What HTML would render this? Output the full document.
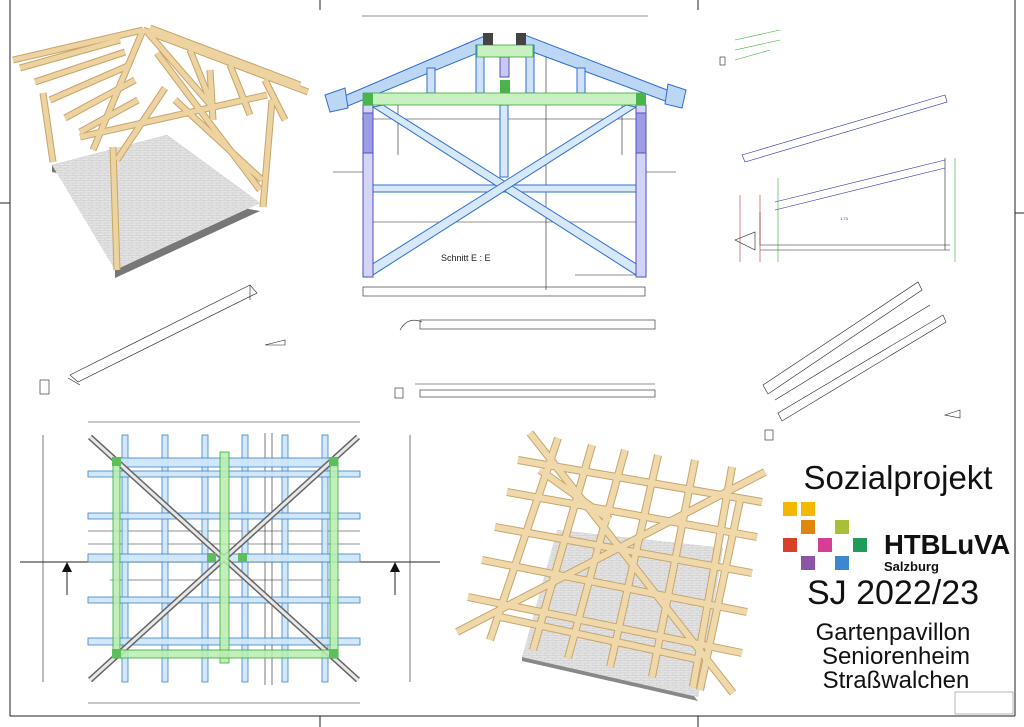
<!DOCTYPE html>
<html><head><meta charset="utf-8"><style>
html,body{margin:0;padding:0;background:#fff}
svg{display:block}
.t{font-family:"Liberation Sans",sans-serif}
</style></head><body>
<svg width="1024" height="727" viewBox="0 0 1024 727" xmlns="http://www.w3.org/2000/svg">
<defs>
<pattern id="pav" width="8" height="5" patternUnits="userSpaceOnUse">
<rect width="8" height="5" fill="#e4e4e4"/><path d="M0 .5H8M4 .5V3M0 3H8M1 3V5" stroke="#c8c8c8" stroke-width=".6"/>
</pattern>
</defs>
<!-- frame -->
<g stroke="#222" stroke-width="1" fill="none">
<line x1="10" y1="0" x2="10" y2="716"/>
<line x1="1015" y1="0" x2="1015" y2="716"/>
<line x1="10" y1="716" x2="1015" y2="716"/>
<line x1="0" y1="203" x2="10" y2="203"/>
<line x1="1015" y1="213" x2="1024" y2="213"/>
<line x1="320" y1="0" x2="320" y2="10"/>
<line x1="698" y1="0" x2="698" y2="10"/>
<line x1="320" y1="716" x2="320" y2="727"/>
<line x1="698" y1="716" x2="698" y2="727"/>
</g>
<rect x="955" y="692" width="58" height="22" fill="none" stroke="#888" stroke-width=".6"/>

<!-- 3D view top-left -->
<polygon points="52,165 167,135 260,203 115,270 115,278 260,211 52,172" fill="#777"/>
<polygon points="52,165 167,135 260,203 115,270" fill="url(#pav)"/>
<g stroke="#c9a46a" stroke-width="7" stroke-linecap="butt">
<line x1="43" y1="93" x2="53" y2="162"/>
<line x1="113" y1="147" x2="117" y2="270"/>
<line x1="272" y1="100" x2="263" y2="207"/>
<line x1="210" y1="70" x2="213" y2="120"/>
<line x1="80" y1="137" x2="267" y2="95"/>
<line x1="157" y1="53" x2="260" y2="190"/>
<line x1="117" y1="160" x2="165" y2="88"/>
<line x1="143" y1="30" x2="13" y2="60"/>
<line x1="143" y1="30" x2="308" y2="92"/>
<line x1="143" y1="30" x2="93" y2="150"/>
<line x1="148" y1="33" x2="215" y2="110"/>
<line x1="20" y1="68" x2="120" y2="40"/>
<line x1="35" y1="82" x2="125" y2="52"/>
<line x1="50" y1="100" x2="130" y2="65"/>
<line x1="65" y1="118" x2="135" y2="80"/>
<line x1="80" y1="132" x2="138" y2="100"/>
<line x1="190" y1="50" x2="210" y2="100"/>
<line x1="230" y1="65" x2="250" y2="115"/>
<line x1="265" y1="80" x2="285" y2="120"/>
<line x1="175" y1="100" x2="262" y2="180"/>
<line x1="150" y1="28" x2="300" y2="85"/>
</g>
<g stroke="#ecd3a0" stroke-width="5" stroke-linecap="butt">
<line x1="43" y1="93" x2="53" y2="162"/>
<line x1="113" y1="147" x2="117" y2="270"/>
<line x1="272" y1="100" x2="263" y2="207"/>
<line x1="210" y1="70" x2="213" y2="120"/>
<line x1="80" y1="137" x2="267" y2="95"/>
<line x1="157" y1="53" x2="260" y2="190"/>
<line x1="117" y1="160" x2="165" y2="88"/>
<line x1="143" y1="30" x2="13" y2="60"/>
<line x1="143" y1="30" x2="308" y2="92"/>
<line x1="143" y1="30" x2="93" y2="150"/>
<line x1="148" y1="33" x2="215" y2="110"/>
<line x1="20" y1="68" x2="120" y2="40"/>
<line x1="35" y1="82" x2="125" y2="52"/>
<line x1="50" y1="100" x2="130" y2="65"/>
<line x1="65" y1="118" x2="135" y2="80"/>
<line x1="80" y1="132" x2="138" y2="100"/>
<line x1="190" y1="50" x2="210" y2="100"/>
<line x1="230" y1="65" x2="250" y2="115"/>
<line x1="265" y1="80" x2="285" y2="120"/>
<line x1="175" y1="100" x2="262" y2="180"/>
<line x1="150" y1="28" x2="300" y2="85"/>
</g>

<!-- Section E:E -->
<g stroke="#222" stroke-width=".6" fill="none">
<line x1="362" y1="16" x2="648" y2="16"/>
<line x1="362" y1="119" x2="645" y2="119"/>
<line x1="363" y1="222" x2="645" y2="222"/>
<line x1="546" y1="43" x2="546" y2="290"/>
<line x1="398" y1="105" x2="398" y2="155"/>
<line x1="622" y1="105" x2="622" y2="155"/>
<line x1="333" y1="172" x2="363" y2="172"/>
<line x1="645" y1="172" x2="676" y2="172"/>
<rect x="363" y="287" width="282" height="9"/>
<line x1="575" y1="275" x2="636" y2="275"/>
</g>
<g stroke="#2f6fd0" stroke-width="1">
<polygon points="335,100 487,35 490,48 338,110" fill="#bcd7f3"/>
<polygon points="680,95 525,35 522,48 676,105" fill="#bcd7f3"/>
<polygon points="325,95 345,88 348,108 330,112" fill="#bcd7f3"/>
<polygon points="686,90 668,84 665,104 682,108" fill="#bcd7f3"/>
<rect x="427" y="68" width="8" height="25" fill="#cfe2f7"/>
<rect x="577" y="68" width="8" height="25" fill="#cfe2f7"/>
<rect x="476" y="45" width="8" height="48" fill="#cfe2f7"/>
<rect x="526" y="45" width="8" height="48" fill="#cfe2f7"/>
<rect x="500" y="57" width="9" height="20" fill="#c8c8f2" stroke="#5050c0"/>
<rect x="500" y="105" width="8" height="72" fill="#d7e8f8"/>
<rect x="373" y="185" width="263" height="7" fill="#d7e8f8"/>
<polygon points="373,107 383,105 646,270 636,275" fill="#d7e8f8"/>
<polygon points="636,107 626,105 363,270 373,275" fill="#d7e8f8"/>
<rect x="363" y="105" width="10" height="172" fill="#d4d4f6" stroke="#5050c0"/>
<rect x="636" y="105" width="10" height="172" fill="#d4d4f6" stroke="#5050c0"/>
<rect x="363" y="113" width="10" height="40" fill="#9c9ce6" stroke="#5050c0"/>
<rect x="636" y="113" width="10" height="40" fill="#9c9ce6" stroke="#5050c0"/>
</g>
<rect x="477" y="45" width="56" height="12" fill="#c9f0c0" stroke="#3a3" stroke-width=".8"/>
<rect x="363" y="93" width="282" height="12" fill="#c9f0c0" stroke="#3a3" stroke-width=".8"/>
<rect x="363" y="93" width="10" height="12" fill="#4bb34b"/>
<rect x="636" y="93" width="10" height="12" fill="#4bb34b"/>
<rect x="500" y="80" width="10" height="13" fill="#4bb34b"/>
<rect x="483" y="33" width="10" height="12" fill="#444"/>
<rect x="516" y="33" width="10" height="12" fill="#444"/>
<text x="441" y="261" font-size="9" class="t" fill="#222">Schnitt E : E</text>

<!-- middle small details -->
<g stroke="#222" stroke-width=".6" fill="none">
<rect x="420" y="320" width="235" height="9"/>
<path d="M400,330 q8,-14 22,-8"/>
<rect x="420" y="390" width="235" height="7"/>
<line x1="415" y1="384" x2="655" y2="384"/>
<rect x="395" y="388" width="8" height="10"/>
<path d="M70,375 L250,285 L257,293 L78,382 Z"/>
<path d="M68,378 L80,385"/>
<rect x="40" y="380" width="9" height="14"/>
<line x1="250" y1="285" x2="250" y2="300"/>
<path d="M742,155 L945,95 L947,102 L745,162 Z" stroke="#2030b0"/>
<path d="M775,202 L945,160 M775,210 L945,168" stroke="#2030b0"/>
<path d="M760,212 L760,245 L950,245 M760,250 L950,250"/>
<line x1="945" y1="158" x2="945" y2="250"/>
<line x1="955" y1="158" x2="955" y2="262" stroke="#3a3"/>
<line x1="778" y1="178" x2="778" y2="262" stroke="#3a3"/>
<line x1="760" y1="195" x2="760" y2="262" stroke="#b33"/>
<line x1="740" y1="195" x2="740" y2="262" stroke="#b33"/>
<path d="M763,385 L918,282 L922,290 L768,394 Z"/>
<path d="M778,413 L943,315 L946,322 L782,421 Z"/>
<line x1="775" y1="400" x2="930" y2="305"/>
<path d="M735,240 L755,232 L755,250 Z"/>
<path d="M735,40 L780,30 M735,50 L780,40 M735,60 L770,50" stroke="#3a3"/>
<rect x="720" y="57" width="5" height="8"/>
<rect x="765" y="430" width="8" height="10"/>
<path d="M265,345 L285,340 L285,345 Z M945,415 L960,410 L960,418 Z"/>
</g>
<g fill="#2030b0" font-size="4" class="t"><text x="840" y="220">1.73</text></g>

<!-- Plan view -->
<g stroke="#222" stroke-width=".6" fill="none">
<line x1="88" y1="422" x2="360" y2="422"/>
<line x1="88" y1="703" x2="360" y2="703"/>
<line x1="43" y1="435" x2="43" y2="682"/>
<line x1="410" y1="435" x2="410" y2="682"/>
<line x1="20" y1="562" x2="440" y2="562" stroke-width="1"/>
<line x1="88" y1="531" x2="360" y2="531"/>
<line x1="88" y1="544" x2="360" y2="544"/>
<line x1="110" y1="580" x2="340" y2="580"/>
<line x1="265" y1="433" x2="265" y2="685"/>
<line x1="272" y1="433" x2="272" y2="685"/>
</g>
<g stroke="#222" stroke-width="1">
<line x1="67" y1="595" x2="67" y2="570"/>
<line x1="395" y1="595" x2="395" y2="570"/>
</g>
<polygon points="62,572 72,572 67,562" fill="#111"/>
<polygon points="390,572 400,572 395,562" fill="#111"/>
<g stroke="#3a83c8" stroke-width=".8" fill="#cde4f6" fill-opacity=".9">
<rect x="122" y="435" width="6" height="247"/>
<rect x="162" y="435" width="6" height="247"/>
<rect x="202" y="435" width="6" height="247"/>
<rect x="242" y="435" width="6" height="247"/>
<rect x="282" y="435" width="6" height="247"/>
<rect x="322" y="435" width="6" height="247"/>
<rect x="120" y="458" width="217" height="9"/>
<rect x="88" y="471" width="272" height="6"/>
<rect x="88" y="513" width="272" height="6"/>
<rect x="88" y="554" width="272" height="8"/>
<rect x="88" y="597" width="272" height="6"/>
<rect x="88" y="638" width="272" height="7"/>
</g>
<g stroke="#666" stroke-width="6">
<line x1="90" y1="437" x2="358" y2="680"/>
<line x1="358" y1="437" x2="90" y2="680"/>
</g>
<g stroke="#e8e8e8" stroke-width="3">
<line x1="90" y1="437" x2="358" y2="680"/>
<line x1="358" y1="437" x2="90" y2="680"/>
</g>
<g stroke="#3a3" stroke-width=".8" fill="#b9ecae" fill-opacity=".85">
<rect x="113" y="458" width="7" height="200"/>
<rect x="330" y="458" width="8" height="200"/>
<rect x="220" y="452" width="9" height="211"/>
<rect x="113" y="650" width="225" height="8"/>
</g>
<g fill="#5cbf5c"><rect x="112" y="457" width="9" height="9"/><rect x="329" y="457" width="9" height="9"/><rect x="112" y="649" width="9" height="9"/><rect x="329" y="649" width="9" height="9"/><rect x="238" y="553" width="9" height="9"/><rect x="207" y="553" width="9" height="9"/></g>

<!-- 3D view bottom -->
<polygon points="557,530 723,548 698,697 522,657 522,661 698,701" fill="#888"/>
<polygon points="557,530 723,548 698,697 522,657" fill="url(#pav)"/>
<g stroke="#c9a46a" stroke-width="8">
<line x1="518" y1="460" x2="762" y2="502"/>
<line x1="507" y1="492" x2="757" y2="537"/>
<line x1="495" y1="527" x2="752" y2="573"/>
<line x1="482" y1="560" x2="747" y2="612"/>
<line x1="468" y1="597" x2="742" y2="653"/>
<line x1="500" y1="617" x2="700" y2="660"/>
<line x1="558" y1="438" x2="490" y2="640"/>
<line x1="592" y1="445" x2="533" y2="650"/>
<line x1="625" y1="450" x2="568" y2="658"/>
<line x1="658" y1="455" x2="610" y2="667"/>
<line x1="695" y1="460" x2="652" y2="677"/>
<line x1="732" y1="467" x2="693" y2="687"/>
<line x1="530" y1="433" x2="733" y2="693"/>
<line x1="765" y1="472" x2="457" y2="632"/>
<line x1="540" y1="470" x2="610" y2="520"/>
<line x1="740" y1="500" x2="700" y2="690"/>
</g>
<g stroke="#efd9aa" stroke-width="6">
<line x1="518" y1="460" x2="762" y2="502"/>
<line x1="507" y1="492" x2="757" y2="537"/>
<line x1="495" y1="527" x2="752" y2="573"/>
<line x1="482" y1="560" x2="747" y2="612"/>
<line x1="468" y1="597" x2="742" y2="653"/>
<line x1="500" y1="617" x2="700" y2="660"/>
<line x1="558" y1="438" x2="490" y2="640"/>
<line x1="592" y1="445" x2="533" y2="650"/>
<line x1="625" y1="450" x2="568" y2="658"/>
<line x1="658" y1="455" x2="610" y2="667"/>
<line x1="695" y1="460" x2="652" y2="677"/>
<line x1="732" y1="467" x2="693" y2="687"/>
<line x1="530" y1="433" x2="733" y2="693"/>
<line x1="765" y1="472" x2="457" y2="632"/>
<line x1="540" y1="470" x2="610" y2="520"/>
<line x1="740" y1="500" x2="700" y2="690"/>
</g>

<!-- Title block -->
<g class="t" fill="#111" text-anchor="middle">
<text x="898" y="489" font-size="33">Sozialprojekt</text>
<text x="893" y="604" font-size="34">SJ 2022/23</text>
<text x="893" y="640" font-size="24">Gartenpavillon</text>
<text x="896" y="664" font-size="24">Seniorenheim</text>
<text x="896" y="688" font-size="24">Straßwalchen</text>
</g>
<text x="884" y="554" font-size="27.5" font-weight="bold" class="t" fill="#111">HTBLuVA</text>
<text x="884" y="571" font-size="13" font-weight="bold" class="t" fill="#111">Salzburg</text>
<g>
<rect x="783" y="502" width="14" height="14" fill="#f5b800"/>
<rect x="801" y="502" width="14" height="14" fill="#f5b800"/>
<rect x="801" y="520" width="14" height="14" fill="#e0860a"/>
<rect x="835" y="520" width="14" height="14" fill="#a8bf3a"/>
<rect x="783" y="538" width="14" height="14" fill="#d9402a"/>
<rect x="818" y="538" width="14" height="14" fill="#d63d95"/>
<rect x="853" y="538" width="14" height="14" fill="#1f9c5c"/>
<rect x="801" y="556" width="14" height="14" fill="#8c55a8"/>
<rect x="835" y="556" width="14" height="14" fill="#3b88d0"/>
</g>
</svg>
</body></html>
